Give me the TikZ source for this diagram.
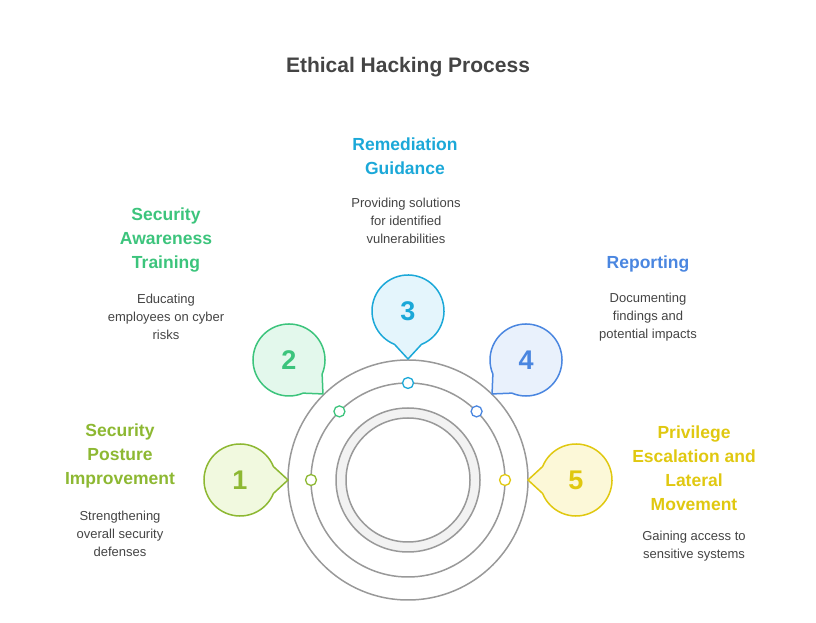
\documentclass[tikz,border=0pt]{standalone}
\usepackage{fontspec}
\setmainfont{Liberation Sans}
\usetikzlibrary{calc}
\definecolor{cA}{HTML}{8DB832}\definecolor{fA}{HTML}{F1F9DF}
\definecolor{cB}{HTML}{3CC47C}\definecolor{fB}{HTML}{E3F8EC}
\definecolor{cC}{HTML}{1BA8D8}\definecolor{fC}{HTML}{E4F5FC}
\definecolor{cD}{HTML}{4A86E0}\definecolor{fD}{HTML}{E9F1FC}
\definecolor{cE}{HTML}{E0C810}\definecolor{fE}{HTML}{FCF8D8}
\definecolor{txt}{HTML}{444444}
\definecolor{ring}{HTML}{999999}
\begin{document}
\begin{tikzpicture}[x=1pt,y=1pt,
  ttl/.style={font=\bfseries\fontsize{17.5}{24}\selectfont,align=center},
  desc/.style={font=\fontsize{13}{18}\selectfont,align=center,text=txt},
  num/.style={font=\bfseries\fontsize{27}{30}\selectfont},
  dot/.style={circle,minimum size=11pt,inner sep=0,draw=#1,fill=white,line width=1.3pt}]
\useasboundingbox (0,0) rectangle (816,623);
\coordinate (C) at (408,143);
\draw[ring,line width=1.5pt] (C) circle[radius=120];
\draw[ring,line width=1.5pt] (C) circle[radius=97];
\draw[ring,line width=1.5pt,fill=black!5,even odd rule] (C) circle[radius=72] (C) circle[radius=62];
\node[font=\bfseries\fontsize{21}{26}\selectfont,text=txt] (title) at (408,556) {Ethical Hacking Process};
% bubbles
\foreach \n/\x/\y/\a/\c/\f/\t in {b1/240/143/0/cA/fA/1, b2/289/263/-45/cB/fB/2, b3/408/312/-90/cC/fC/3, b4/526/263/-135/cD/fD/4, b5/576/143/180/cE/fE/5}{
  \begin{scope}[shift={(\x,\y)},rotate=\a]
  \draw[\c,fill=\f,line width=1.5pt,line join=round] (22:36) arc[start angle=22,end angle=338,radius=36] -- (0:48) -- cycle;
  \end{scope}
  \node[num,text=\c] (\n) at (\x,\y) {\t};
}
\node[dot=cA] (d1) at ($(C)+(180:97)$) {};
\node[dot=cB] (d2) at ($(C)+(135:97)$) {};
\node[dot=cC] (d3) at ($(C)+(90:97)$) {};
\node[dot=cD] (d4) at ($(C)+(45:97)$) {};
\node[dot=cE] (d5) at ($(C)+(0:97)$) {};
% texts
\node[ttl,text=cC] (t3) at (405,467) {Remediation\\Guidance};
\node[desc] (s3) at (406,402) {Providing solutions\\for identified\\vulnerabilities};
\node[ttl,text=cB] (t2) at (166,383) {Security\\Awareness\\Training};
\node[desc] (s2) at (166,306) {Educating\\employees on cyber\\risks};
\node[ttl,text=cD] (t4) at (648,359) {Reporting};
\node[desc] (s4) at (648,306) {Documenting\\findings and\\potential impacts};
\node[ttl,text=cA] (t1) at (120,167) {Security\\Posture\\Improvement};
\node[desc] (s1) at (120,89) {Strengthening\\overall security\\defenses};
\node[ttl,text=cE] (t5) at (694,155) {Privilege\\Escalation and\\Lateral\\Movement};
\node[desc] (s5) at (694,77) {Gaining access to\\sensitive systems};
\end{tikzpicture}
\end{document}
